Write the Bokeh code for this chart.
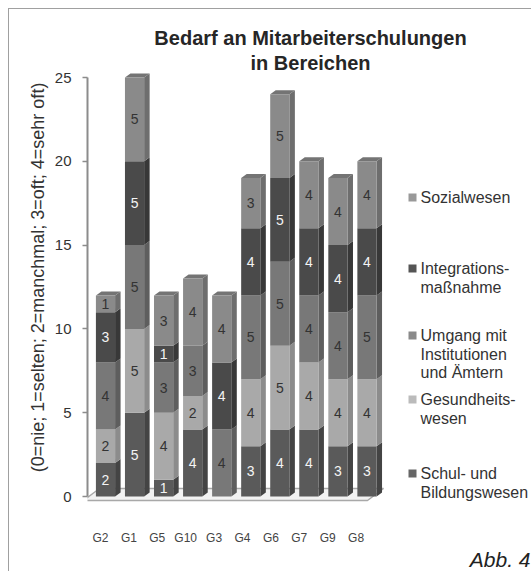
from bokeh.plotting import figure
from bokeh.models import Range1d, LinearAxis, FixedTicker, Title, ColumnDataSource
from bokeh.core.properties import value
from bokeh.embed import file_html
from bokeh.resources import INLINE

# ---------------- data ----------------
groups = ["G2", "G1", "G5", "G10", "G3", "G4", "G6", "G7", "G9", "G8"]
series_names = ["Schul- und Bildungswesen", "Gesundheitswesen",
                "Umgang mit Institutionen und Ämtern", "Integrationsmaßnahme",
                "Sozialwesen"]
legend_lines = [["Schul- und", "Bildungswesen"], ["Gesundheits-", "wesen"],
                ["Umgang mit", "Institutionen", "und Ämtern"],
                ["Integrations-", "maßnahme"], ["Sozialwesen"]]
schul = [2, 5, 1, 4, 0, 3, 4, 4, 3, 3]
gesund = [2, 5, 4, 2, 0, 4, 5, 4, 4, 4]
umgang = [4, 5, 3, 3, 4, 5, 5, 4, 4, 5]
integ = [3, 5, 1, 0, 4, 4, 5, 4, 4, 4]
sozial = [1, 5, 3, 4, 4, 3, 5, 4, 4, 4]
y_ticks = [0, 5, 10, 15, 20, 25]
y_title = "(0=nie; 1=selten; 2=manchmal; 3=oft; 4=sehr oft)"
title_lines = ["Bedarf an Mitarbeiterschulungen", "in Bereichen"]
fig_note = "Abb. 4"

# ---------------- styles ----------------
FONT = "Liberation Sans"
front_colors = ["#5a5a5a", "#a9a9a9", "#787878", "#4a4a4a", "#8a8a8a"]
side_colors = ["#444444", "#8c8c8c", "#5e5e5e", "#383838", "#6e6e6e"]
top_colors = ["#6e6e6e", "#bdbdbd", "#8a8a8a", "#5c5c5c", "#747474"]
swatch_colors = ["#666666", "#bbbbbb", "#8a8a8a", "#555555", "#999999"]
label_colors = ["#f4f4f4", "#333333", "#333333", "#f4f4f4", "#333333"]

# pixel geometry (page coords) -> ranges
W_FIG, H_FIG = 523, 563
ORG = 9.0             # page offset of canvas (margin 8 + border 1)
PX_X = 29.05          # px per category on bar plane
X0_PX = 105.0         # page x of first bar centre
PX_Y = 16.76          # px per unit
Y0_PX = 496.0         # page y of value 0
FL, FR, FT, FB = 87.0, ORG + W_FIG, ORG, 505.0   # frame edges (page)

x_range = Range1d((FL - X0_PX) / PX_X, (FR - X0_PX) / PX_X)
y_range = Range1d((Y0_PX - FB) / PX_Y, (Y0_PX - FT) / PX_Y)

def dx_of(px):
    return (px - X0_PX) / PX_X

def dy_of(py):
    return (Y0_PX - py) / PX_Y

p = figure(width=W_FIG, height=H_FIG, x_range=x_range, y_range=y_range,
           output_backend="svg", toolbar_location=None, title=None,
           x_axis_location=None, min_border_left=int(FL - ORG),
           min_border_right=0, min_border_top=0,
           min_border_bottom=int(ORG + H_FIG - FB))
p.grid.visible = False
p.outline_line_color = None
p.background_fill_color = "white"
p.border_fill_color = "white"
p.styles = {"margin-left": "8px", "margin-top": "8px",
            "border-top": "1px solid #a0a0a0", "border-left": "1px solid #a0a0a0"}

# ---------------- title ----------------
p.text([dx_of(310)] * 2, [dy_of(37), dy_of(62)], text=title_lines,
       text_align="center", text_baseline="middle", text_font=value(FONT),
       text_font_size="20px", text_font_style="bold", text_color="#262626")

# ---------------- floor ----------------
n = len(groups)
fdx, fdy = 16 / PX_X, 12 / PX_Y
fx0, fx1, fy0 = dx_of(83), dx_of(367), dy_of(500)
p.patch([fx0, fx1, fx1 + fdx, fx0 + fdx], [fy0, fy0, fy0 + fdy, fy0 + fdy],
        fill_color="#f2f2f2", line_color="#a8a8a8", line_width=1.5)

# ---------------- bars ----------------
xs = list(range(n))
data = dict(x=xs, g=groups)
keys = ["s0", "s1", "s2", "s3", "s4"]
vals = [schul, gesund, umgang, integ, sozial]
for k, v in zip(keys, vals):
    data[k] = v
src = ColumnDataSource(data)

W = 0.66
dx, dy = 5.5 / PX_X, 4.0 / PX_Y

side_xs, side_ys, side_c = [], [], []
top_xs, top_ys, top_c = [], [], []
lab_x, lab_y, lab_t, lab_c = [], [], [], []
for i in range(n):
    base = 0
    last = None
    for s in range(5):
        v = vals[s][i]
        if v <= 0:
            continue
        b, t = base, base + v
        xr = xs[i] + W / 2
        side_xs.append([xr, xr + dx, xr + dx, xr])
        side_ys.append([b, b + dy, t + dy, t])
        side_c.append(side_colors[s])
        lab_x.append(xs[i])
        lab_y.append((b + t) / 2)
        lab_t.append(str(v))
        lab_c.append(label_colors[s])
        base = t
        last = s
    xl, xr = xs[i] - W / 2, xs[i] + W / 2
    top_xs.append([xl, xl + dx, xr + dx, xr])
    top_ys.append([base, base + dy, base + dy, base])
    top_c.append(top_colors[last])

p.patches(side_xs, side_ys, fill_color=side_c, line_color=None)
p.patches(top_xs, top_ys, fill_color=top_c, line_color=None)
p.vbar_stack(keys, x="x", width=W, source=src, fill_color=front_colors,
             line_color=None)

p.text(lab_x, lab_y, text=lab_t, text_color=lab_c, text_align="center",
       text_baseline="middle", text_font=value(FONT), text_font_size="14px")

# ---------------- y axis ----------------
ya = p.yaxis[0]
ya.ticker = FixedTicker(ticks=y_ticks)
ya.bounds = (0, 25)
ya.axis_line_color = "#8c8c8c"
ya.axis_line_width = 2
ya.major_tick_line_color = "#8c8c8c"
ya.major_tick_line_width = 1.5
ya.major_tick_out = 5
ya.major_tick_in = 0
ya.minor_tick_line_color = None
ya.major_label_standoff = 11
ya.major_label_text_font = FONT
ya.major_label_text_font_size = "15px"
ya.major_label_text_color = "#333333"
# trailing no-break spaces shift the centred label down to its place
ya.axis_label = y_title + "\u00a0" * 8
ya.axis_label_text_font = FONT
ya.axis_label_text_font_size = "18px"
ya.axis_label_text_font_style = "normal"
ya.axis_label_text_color = "#333333"
ya.axis_label_standoff = 4

# ---------------- x axis (category labels) ----------------
LBL0, LBLP = 100.0, 28.4
p.extra_x_ranges = {"labels": Range1d((FL - LBL0) / LBLP, (FR - LBL0) / LBLP)}
xa = LinearAxis(x_range_name="labels", ticker=FixedTicker(ticks=list(range(n))),
                major_label_overrides={i: g for i, g in enumerate(groups)})
xa.axis_line_color = None
xa.major_tick_line_color = None
xa.minor_tick_line_color = None
xa.major_label_standoff = 19
xa.major_label_text_font = FONT
xa.major_label_text_font_size = "12px"
xa.major_label_text_color = "#444444"
p.add_layout(xa, "below")

p.add_layout(Title(text=fig_note, align="right", vertical_align="top",
                   text_font=FONT, text_font_size="21px",
                   text_font_style="italic", text_color="#222222",
                   standoff=0, offset=2), "below")

# ---------------- legend (manual) ----------------
LEG_SW_X, LEG_TX_X, LEG_LH = 412.0, 420.0, 18.5
first_line_y = [473.0, 399.0, 335.0, 268.0, 197.0]
sw_x, sw_y = [], []
tx_x, tx_y, tx_t = [], [], []
for s in range(5):
    y0 = first_line_y[s]
    sw_x.append(dx_of(LEG_SW_X))
    sw_y.append(dy_of(y0))
    for j, line in enumerate(legend_lines[s]):
        tx_x.append(dx_of(LEG_TX_X))
        tx_y.append(dy_of(y0 + j * LEG_LH))
        tx_t.append(line)
p.scatter(sw_x, sw_y, marker="square", size=8, fill_color=swatch_colors,
          line_color=None)
p.text(tx_x, tx_y, text=tx_t, text_color="#333333", text_align="left",
       text_baseline="middle", text_font=value(FONT), text_font_size="16px")

open("out.html", "w").write(file_html(p, INLINE))
